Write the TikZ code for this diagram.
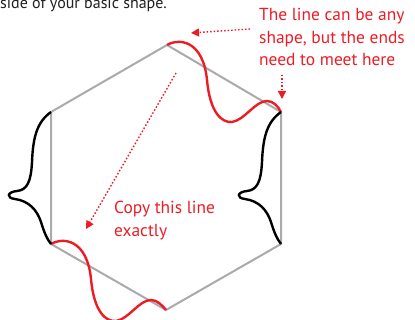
\documentclass[tikz,border=0pt]{standalone}
\usepackage{fontspec}
\setmainfont{PT Sans}
\usetikzlibrary{arrows.meta}
\definecolor{myred}{RGB}{237,28,36}
\definecolor{mygrey}{RGB}{170,170,172}
\definecolor{mytext}{RGB}{35,31,32}
\begin{document}
\begin{tikzpicture}[x=1pt,y=-1pt,
  hexline/.style={draw=mygrey,line width=2pt},
  redcurve/.style={draw=myred,line width=2.4pt},
  blackcurve/.style={draw=black,line width=2.4pt},
  dotarrow/.style={draw=myred,line width=1.4pt,dash pattern=on 1.5pt off 2pt,
     -{Triangle[length=8pt,width=8pt]}},
  redtext/.style={text=myred,font=\fontsize{17.4}{22.5}\selectfont,align=left,inner sep=0pt},
  blacktext/.style={text=mytext,font=\fontsize{16}{20}\selectfont,inner sep=0pt}]
\useasboundingbox (0,0) rectangle (415,320);
% hexagon vertices
\coordinate (T) at (167,45);
\coordinate (UR) at (281,112);
\coordinate (LR) at (281,244);
\coordinate (B) at (166,310);
\coordinate (LL) at (51,244);
\coordinate (UL) at (51,112);
\path[hexline] (T) -- (UR) -- (LR) -- (B) -- (LL) -- (UL) -- cycle;
% red curves
\path[redcurve,shift={(T)}] (0,0) .. controls (12,-7) and (36,-5) .. (40,35)
  .. controls (43,68) and (55,78) .. (65,77)
  .. controls (78,75) and (88,56) .. (100,56)
  .. controls (106,56) and (111,61) .. (114,67);
\path[redcurve,shift={(LL)}] (0,0) .. controls (12,-7) and (36,-5) .. (40,35)
  .. controls (43,68) and (55,78) .. (65,77)
  .. controls (78,75) and (88,56) .. (100,56)
  .. controls (106,56) and (111,61) .. (115,66);
% black curves
\path[blackcurve,shift={(UL)}] (0,0) .. controls (-14,10) and (-18,25) .. (-19,50)
  .. controls (-20,70) and (-24,78) .. (-34,79)
  .. controls (-44,80) and (-45,86) .. (-36,87)
  .. controls (-22,89) and (-14,98) .. (-10,110)
  .. controls (-7,120) and (-4,127) .. (0,132);
\path[blackcurve,shift={(UR)}] (0,0) .. controls (-14,10) and (-18,25) .. (-19,50)
  .. controls (-20,70) and (-24,78) .. (-34,79)
  .. controls (-44,80) and (-45,86) .. (-36,87)
  .. controls (-22,89) and (-14,98) .. (-10,110)
  .. controls (-7,120) and (-4,127) .. (0,132);
% texts
\node[blacktext,anchor=base west] (top) at (0,8.5) {side of your basic shape.};
\node[redtext,anchor=north west] (note1) at (259,8) {The line can be any\\shape, but the ends\\need to meet here};
\node[redtext,anchor=north west] (note2) at (114,201) {Copy this line\\exactly};
% arrows
\coordinate (a1s) at (250,29);
\coordinate (a1e) at (191,33);
\coordinate (a2s) at (282,75);
\coordinate (a2e) at (282,99);
\coordinate (a3s) at (176,73);
\coordinate (a3e) at (86,229);
\draw[dotarrow] (a1s) -- (a1e);
\draw[dotarrow] (a2s) -- (a2e);
\draw[dotarrow] (a3s) -- (a3e);
\end{tikzpicture}
\end{document}
